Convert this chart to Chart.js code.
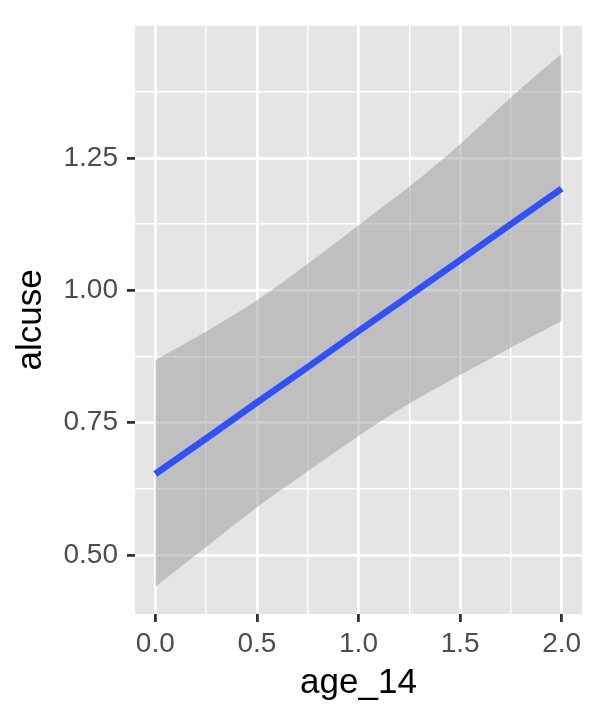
<!DOCTYPE html>
<html>
<head>
<meta charset="utf-8">
<script src="https://cdn.jsdelivr.net/npm/chart.js@4"></script>
<style>
html,body{margin:0;padding:0;background:#ffffff;}
#wrap{width:600px;height:720px;}
</style>
</head>
<body>
<div id="wrap"><canvas id="c" width="600" height="720"></canvas></div>
<script>
// ---- data ----
const ageValues   = [0, 0.25, 0.5, 0.75, 1.0, 1.25, 1.5, 1.75, 2.0];
const fitValues   = [0.653, 0.720, 0.788, 0.855, 0.923, 0.990, 1.057, 1.125, 1.192];
const upperValues = [0.868, 0.922, 0.981, 1.050, 1.123, 1.196, 1.276, 1.364, 1.447];
const lowerValues = [0.440, 0.515, 0.590, 0.658, 0.725, 0.786, 0.840, 0.892, 0.942];

const xTickValues = [0, 0.5, 1.0, 1.5, 2.0];
const xTickLabels = ['0.0', '0.5', '1.0', '1.5', '2.0'];
const xMinorValues = [0.25, 0.75, 1.25, 1.75];
const yTickValues = [0.5, 0.75, 1.0, 1.25];
const yTickLabels = ['0.50', '0.75', '1.00', '1.25'];
const yMinorValues = [0.625, 0.875, 1.125, 1.375];

const xTitle = 'age_14';
const yTitle = 'alcuse';

// ---- helpers ----
const pts = (ys) => ageValues.map((x, i) => ({x: x, y: ys[i]}));
const isMajor = (list, v) => list.some(t => Math.abs(t - v) < 1e-9);
const FONT = "'Liberation Sans', Arial, Helvetica, sans-serif";

const panelBg = {
  id: 'panelBg',
  beforeDraw(chart) {
    const a = chart.chartArea, ctx = chart.ctx;
    ctx.save();
    ctx.fillStyle = '#E5E5E5';
    ctx.fillRect(a.left, a.top, a.right - a.left, a.bottom - a.top);
    ctx.restore();
  }
};

function gridOpts(majors) {
  return {
    display: true,
    drawOnChartArea: true,
    drawTicks: true,
    offset: false,
    color: '#FFFFFF',
    lineWidth: (c) => (c.tick && isMajor(majors, c.tick.value)) ? 2.8 : 1.4,
    tickColor: (c) => (c.tick && isMajor(majors, c.tick.value)) ? '#333333' : 'rgba(0,0,0,0)',
    tickWidth: 2.8,
    tickLength: 8
  };
}

new Chart(document.getElementById('c'), {
  type: 'line',
  data: {
    datasets: [
      {
        label: 'fit',
        data: pts(fitValues),
        borderColor: '#3050F8',
        borderWidth: 6.5,
        pointRadius: 0,
        fill: false,
        tension: 0,
        borderCapStyle: 'butt'
      },
      {
        label: 'upper',
        data: pts(upperValues),
        borderWidth: 0,
        borderColor: 'rgba(0,0,0,0)',
        backgroundColor: 'rgba(153,153,153,0.5)',
        pointRadius: 0,
        fill: '+1',
        cubicInterpolationMode: 'monotone'
      },
      {
        label: 'lower',
        data: pts(lowerValues),
        borderWidth: 0,
        borderColor: 'rgba(0,0,0,0)',
        pointRadius: 0,
        fill: false,
        cubicInterpolationMode: 'monotone'
      }
    ]
  },
  options: {
    responsive: false,
    devicePixelRatio: 1,
    animation: false,
    layout: {padding: {top: 18, right: 18, left: 0, bottom: 0}},
    plugins: {legend: {display: false}, tooltip: {enabled: false}},
    scales: {
      x: {
        type: 'linear',
        min: -0.1,
        max: 2.1,
        border: {display: false},
        grid: gridOpts(xTickValues),
        afterBuildTicks: (s) => { s.ticks = xTickValues.concat(xMinorValues).sort((a,b)=>a-b).map(v => ({value: v})); },
        afterFit: (s) => { s.height = 720 - 614; },
        ticks: {
          autoSkip: false,
          maxRotation: 0,
          padding: 5,
          color: '#4D4D4D',
          font: {family: FONT, size: 28},
          callback: (v) => { const i = xTickValues.findIndex(t => Math.abs(t - v) < 1e-9); return i >= 0 ? xTickLabels[i] : ''; }
        },
        title: {
          display: true,
          text: xTitle,
          color: '#000000',
          font: {family: FONT, size: 35},
          padding: {top: 0, bottom: 16}
        }
      },
      y: {
        type: 'linear',
        min: 0.3886,
        max: 1.4995,
        border: {display: false},
        grid: gridOpts(yTickValues),
        afterBuildTicks: (s) => { s.ticks = yTickValues.concat(yMinorValues).sort((a,b)=>a-b).map(v => ({value: v})); },
        afterFit: (s) => { s.width = 135; },
        ticks: {
          autoSkip: false,
          padding: 9,
          color: '#4D4D4D',
          font: {family: FONT, size: 28},
          callback: (v) => { const i = yTickValues.findIndex(t => Math.abs(t - v) < 1e-9); return i >= 0 ? yTickLabels[i] : ''; }
        },
        title: {
          display: true,
          text: yTitle,
          color: '#000000',
          font: {family: FONT, size: 35},
          padding: {top: 10, bottom: 0}
        }
      }
    }
  },
  plugins: [panelBg]
});
</script>
</body>
</html>
